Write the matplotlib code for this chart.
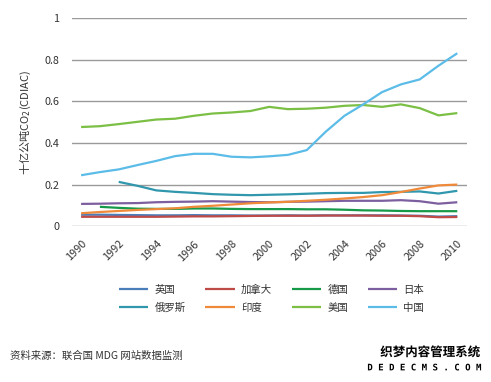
import numpy as np
import matplotlib
matplotlib.use("Agg")
import matplotlib.pyplot as plt
import matplotlib.patheffects as pe

plt.rcParams['font.family'] = ['Noto Sans CJK SC', 'DejaVu Sans']

years = list(range(1990, 2011))
tick_years = years[::2]

uk = [0.055, 0.055, 0.054, 0.053, 0.052, 0.052, 0.053, 0.052, 0.052, 0.051, 0.051,
      0.052, 0.051, 0.052, 0.052, 0.052, 0.052, 0.051, 0.050, 0.046, 0.048]
canada = [0.045, 0.045, 0.045, 0.045, 0.045, 0.046, 0.047, 0.047, 0.048, 0.049, 0.050,
          0.050, 0.050, 0.051, 0.051, 0.051, 0.050, 0.050, 0.048, 0.043, 0.044]
germany = [None, 0.093, 0.088, 0.084, 0.083, 0.083, 0.085, 0.085, 0.083, 0.082, 0.082,
           0.082, 0.081, 0.081, 0.079, 0.076, 0.075, 0.073, 0.072, 0.072, 0.072]
japan = [0.107, 0.108, 0.110, 0.111, 0.115, 0.117, 0.118, 0.120, 0.118, 0.116, 0.115,
         0.117, 0.118, 0.120, 0.122, 0.122, 0.122, 0.125, 0.120, 0.108, 0.115]
russia = [None, None, 0.213, 0.194, 0.172, 0.165, 0.160, 0.154, 0.151, 0.149, 0.151,
          0.153, 0.156, 0.159, 0.160, 0.160, 0.164, 0.165, 0.167, 0.157, 0.170]
india = [0.062, 0.068, 0.073, 0.078, 0.082, 0.086, 0.093, 0.098, 0.104, 0.110, 0.114,
         0.117, 0.122, 0.127, 0.133, 0.140, 0.149, 0.164, 0.181, 0.196, 0.200]
usa = [0.477, 0.481, 0.491, 0.502, 0.513, 0.517, 0.531, 0.542, 0.547, 0.554, 0.574,
       0.563, 0.565, 0.570, 0.579, 0.583, 0.574, 0.586, 0.568, 0.533, 0.544]
china = [0.245, 0.260, 0.273, 0.294, 0.314, 0.337, 0.348, 0.348, 0.334, 0.331, 0.336,
         0.343, 0.366, 0.454, 0.531, 0.586, 0.645, 0.682, 0.706, 0.772, 0.832]

names = ['英国', '加拿大', '德国', '日本', '俄罗斯', '印度', '美国', '中国']
series = [uk, canada, germany, japan, russia, india, usa, china]
colors = ['#4a7ebb', '#be4b48', '#17994a', '#7d5f9f', '#3197ad', '#ef8a3a', '#7bbf45', '#5cbce8']

yticks = [0, 0.2, 0.4, 0.6, 0.8, 1]
ytick_labels = ['0', '0.2', '0.4', '0.6', '0.8', '1']

fig = plt.figure(figsize=(4.91, 3.82), dpi=100)
ax = fig.add_axes([0.146, 0.408, 0.8045, 0.544])

x = np.arange(len(years))
handles = []
for name, vals, c in zip(names, series, colors):
    v = np.array([np.nan if a is None else a for a in vals], dtype=float)
    h, = ax.plot(x, v, color=c, lw=1.6, label=name, solid_capstyle='butt', zorder=3)
    handles.append(h)

ax.set_xlim(-0.5, len(years) - 0.5)
ax.set_ylim(0, 1)
ax.set_yticks(yticks)
ax.set_yticklabels(ytick_labels)
ax.set_xticks([years.index(y) for y in tick_years])
ax.set_xticklabels([str(y) for y in tick_years], rotation=45, ha='right', va='top',
                   rotation_mode='anchor')
ax.grid(axis='y', color='#9a9a9a', lw=1.0, zorder=0)
ax.tick_params(axis='both', length=0, labelsize=7.8, colors='#333333')
ax.tick_params(axis='y', pad=9)
ax.tick_params(axis='x', pad=9)
for s in ax.spines.values():
    s.set_visible(False)
ax.set_ylabel('十亿公吨CO$_2$(CDIAC)', fontsize=8, color='#333333', labelpad=8)

# legend is filled column-first; reorder so it reads row by row
ncol = 4
nrow = 2
order = [r * ncol + c for c in range(ncol) for r in range(nrow)]
fig.legend(handles=[handles[i] for i in order], labels=[names[i] for i in order],
           ncol=ncol, loc='center',
           bbox_to_anchor=(0.553, 0.218), frameon=False, fontsize=7.5,
           handlelength=2.8, handletextpad=0.6, columnspacing=1.9,
           labelspacing=0.75, labelcolor='#333333')

fig.text(0.02, 0.069, '资料来源：联合国 MDG 网站数据监测', fontsize=7.5, style='italic',
         color='#333333', ha='left', va='center')

wm1 = fig.text(0.978, 0.077, '织梦内容管理系统', fontsize=9, fontweight='bold', color='black',
               ha='right', va='center')
wm1.set_path_effects([pe.withStroke(linewidth=2, foreground='white')])
wm2 = fig.text(0.978, 0.037, 'D E D E C M S . C O M', fontsize=6.5, fontweight='bold',
               color='black', ha='right', va='center', family=['DejaVu Sans Mono', 'DejaVu Sans'])
wm2.set_path_effects([pe.withStroke(linewidth=2, foreground='white')])

fig.savefig('out.png', dpi=100)
